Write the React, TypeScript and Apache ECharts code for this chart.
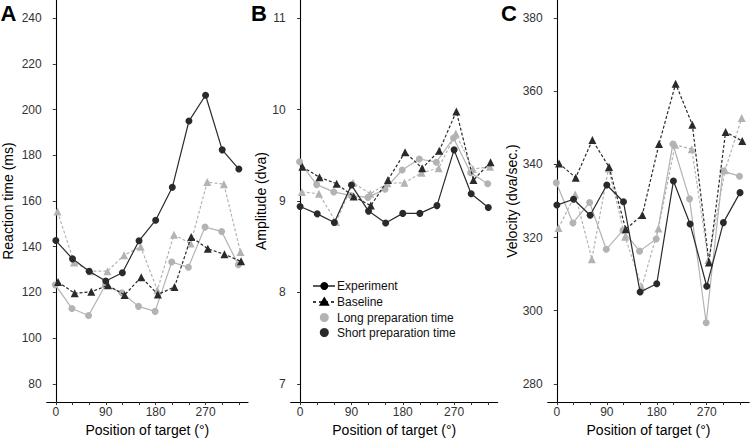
import React, { useEffect, useRef } from "react";
import * as echarts from "echarts";

// Target positions (degrees)
const POSITIONS = [0, 30, 60, 90, 120, 150, 180, 210, 240, 270, 300, 330];
const X_TICKS = [0, 30, 60, 90, 120, 150, 180, 210, 240, 270, 300, 330];
const X_LABELS = [0, 90, 180, 270];

// Panel A: Reaction time (ms)
const RT_TICKS = [80, 100, 120, 140, 160, 180, 200, 220, 240];
const RT_EXP_LONG = [123.3, 113, 109.9, 123, 119.9, 113.9, 111.7, 133.3, 131, 148.6, 146.7, 132.1];
const RT_EXP_SHORT = [142.7, 134.7, 129.3, 125, 128.6, 142.6, 151.6, 166, 195, 206.3, 182.4, 174];
const RT_BASE_LONG = [155.4, 133.1, 129.3, 129.3, 136.3, 140, 121, 145.3, 141.4, 168.3, 167.4, 137.7];
const RT_BASE_SHORT = [124.6, 119.6, 120.3, 123.1, 118.9, 126.7, 119.1, 122.4, 144.3, 139.1, 136.7, 133.6];

// Panel B: Amplitude (dva)
const AMP_TICKS = [7, 8, 9, 10, 11];
const AMP_EXP_LONG = [9.43, 9.18, 9.1, 9.06, 9.04, 9.13, 9.34, 9.46, 9.425, 9.69, 9.31, 9.19];
const AMP_EXP_SHORT = [8.94, 8.86, 8.765, 9.175, 8.89, 8.76, 8.865, 8.865, 8.95, 9.56, 9.08, 8.93];
const AMP_BASE_LONG = [9.1, 9.08, 8.77, 9.2, 9.08, 9.195, 9.2, 9.31, 9.36, 9.74, 9.35, 9.375];
const AMP_BASE_SHORT = [9.375, 9.26, 9.19, 9.05, 8.95, 9.23, 9.535, 9.36, 9.55, 9.98, 9.23, 9.425];

// Panel C: Velocity (dva/sec.)
const VEL_TICKS = [280, 300, 320, 340, 360, 380];
const VEL_EXP_LONG = [335, 324, 329.6, 316.8, 322, 316.3, 319.6, 345.6, 330.6, 296.7, 338.2, 336.8];
const VEL_EXP_SHORT = [328.9, 330.5, 326.1, 334.4, 329.8, 305.1, 307.4, 335.5, 323.7, 306.7, 324.1, 332.3];
const VEL_BASE_LONG = [322.6, 331.8, 314.1, 338.9, 320.2, 306.5, 322.5, 345.4, 344.2, 313.9, 338.4, 352.7];
const VEL_BASE_SHORT = [340.3, 336.4, 346.7, 339.3, 322.3, 326.2, 345.6, 362.1, 350.9, 313.2, 348.9, 346.4];

const LEGEND_LABELS = ["Experiment", "Baseline", "Long preparation time", "Short preparation time"];
const PANEL_LETTERS = ["A", "B", "C"];
const Y_NAMES = ["Reaction time (ms)", "Amplitude (dva)", "Velocity (dva/sec.)"];
const X_NAME = "Position of target (°)";

const DARK = "#2a2a2a";
const LIGHT = "#b3b3b3";
const FONT = "Liberation Sans, Arial, sans-serif";

// small horizontal dodge (degrees) per group, as in the original figure
const DODGE = { expLong: -1, expShort: 0, baseLong: 3, baseShort: 4 };

function pairs(vals: number[], dodge: number) {
  return POSITIONS.map((p, i) => [p + dodge, vals[i]]);
}

export default function App() {
  const ref = useRef<HTMLDivElement>(null);
  useEffect(() => {
    if (!ref.current) return;
    const chart = echarts.init(ref.current, null, { renderer: "svg" });

    const grids = [
      { left: 46.7, top: 0, width: 201.3, height: 410.7 },
      { left: 290.7, top: 0, width: 207, height: 410.7 },
      { left: 547.7, top: 0, width: 201.5, height: 410.7 },
    ];
    const yRanges = [
      { min: 72, max: 248, ticks: RT_TICKS, gap: 31.5 },
      { min: 6.8, max: 11.2, ticks: AMP_TICKS, gap: 18.5 },
      { min: 275, max: 385, ticks: VEL_TICKS, gap: 25 },
    ];
    const axisLine = { show: true, lineStyle: { color: "#000", width: 1.1 } };
    const axisTick = (vals: number[]) => ({
      show: true,
      length: 3,
      customValues: vals,
      lineStyle: { color: "#333", width: 1 },
    });

    const xAxis = grids.map((_, i) => ({
      type: "value",
      gridIndex: i,
      min: -16.5,
      max: 346.5,
      axisLine,
      axisTick: axisTick(X_TICKS),
      axisLabel: {
        customValues: X_LABELS,
        color: "#333",
        fontSize: 12,
        fontFamily: FONT,
        margin: 4,
      },
      splitLine: { show: false },
      name: X_NAME,
      nameLocation: "middle",
      nameGap: 15,
      nameTextStyle: { fontSize: 14, color: "#000", fontFamily: FONT },
    }));

    const yAxis = yRanges.map((r, i) => ({
      type: "value",
      gridIndex: i,
      min: r.min,
      max: r.max,
      axisLine,
      axisTick: axisTick(r.ticks),
      axisLabel: {
        customValues: r.ticks,
        color: "#333",
        fontSize: 12,
        fontFamily: FONT,
        margin: 5,
      },
      splitLine: { show: false },
      name: Y_NAMES[i],
      nameLocation: "middle",
      nameGap: r.gap,
      nameTextStyle: { fontSize: 14, color: "#000", fontFamily: FONT },
    }));

    const panels = [
      [RT_EXP_LONG, RT_EXP_SHORT, RT_BASE_LONG, RT_BASE_SHORT],
      [AMP_EXP_LONG, AMP_EXP_SHORT, AMP_BASE_LONG, AMP_BASE_SHORT],
      [VEL_EXP_LONG, VEL_EXP_SHORT, VEL_BASE_LONG, VEL_BASE_SHORT],
    ];

    const series: any[] = [];
    panels.forEach(([eL, eS, bL, bS], i) => {
      const mk = (name: string, vals: number[], dodge: number, color: string, dashed: boolean, z: number) => ({
        type: "line",
        name,
        xAxisIndex: i,
        yAxisIndex: i,
        data: pairs(vals, dodge),
        symbol: dashed ? "triangle" : "circle",
        symbolSize: dashed ? 8 : 7,
        showSymbol: true,
        itemStyle: { color, borderWidth: 0 },
        lineStyle: { color, width: 1.2, type: dashed ? [3, 2] : "solid" },
        z,
        silent: true,
      });
      series.push(mk("Baseline long", bL, DODGE.baseLong, LIGHT, true, 2));
      series.push(mk("Experiment long", eL, DODGE.expLong, LIGHT, false, 3));
      series.push(mk("Baseline short", bS, DODGE.baseShort, DARK, true, 4));
      series.push(mk("Experiment short", eS, DODGE.expShort, DARK, false, 5));
    });

    // Legend drawn inside panel B
    const lx = 313;
    const rows = [286, 302, 317.5, 332.5];
    const cx = 324.3;
    const tx = 337;
    const tri = (x: number, y: number, s: number) => [
      [x, y - s * 0.62],
      [x - s * 0.6, y + s * 0.42],
      [x + s * 0.6, y + s * 0.42],
    ];
    const legendElements: any[] = [
      { type: "line", shape: { x1: lx, y1: rows[0], x2: lx + 22, y2: rows[0] }, style: { stroke: "#000", lineWidth: 1.3 } },
      { type: "circle", shape: { cx, cy: rows[0], r: 4 }, style: { fill: "#000" } },
      { type: "line", shape: { x1: lx, y1: rows[1], x2: lx + 22, y2: rows[1] }, style: { stroke: "#000", lineWidth: 1.3, lineDash: [3, 3] } },
      { type: "polygon", shape: { points: tri(cx, rows[1], 9) }, style: { fill: "#000" } },
      { type: "circle", shape: { cx, cy: rows[2], r: 4.5 }, style: { fill: LIGHT } },
      { type: "circle", shape: { cx, cy: rows[3], r: 4.5 }, style: { fill: DARK } },
      ...LEGEND_LABELS.map((t, k) => ({
        type: "text",
        x: tx,
        y: rows[k],
        style: { text: t, fontSize: 12, fontFamily: FONT, fill: "#111", verticalAlign: "middle", align: "left" },
      })),
    ];

    const letterX = [0.5, 251, 501];
    const letters = PANEL_LETTERS.map((l, k) => ({
      type: "text",
      x: letterX[k],
      y: 13,
      style: { text: l, fontSize: 22, fontWeight: "bold", fontFamily: FONT, fill: "#000", verticalAlign: "middle", align: "left" },
    }));

    chart.setOption({
      animation: false,
      backgroundColor: "#fff",
      grid: grids,
      xAxis,
      yAxis,
      series,
      graphic: [...legendElements, ...letters],
    });
    return () => chart.dispose();
  }, []);

  return (
    <div
      ref={ref}
      style={{ position: "fixed", left: 0, top: 0, width: 750, height: 442, background: "#fff" }}
    />
  );
}
